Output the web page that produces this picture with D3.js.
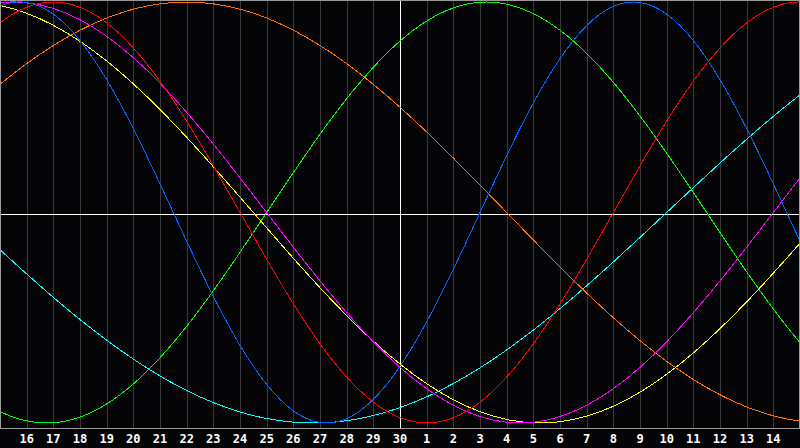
<!DOCTYPE html>
<html>
<head>
<meta charset="utf-8">
<script src="https://cdn.jsdelivr.net/npm/d3@7"></script>
<style>
  html, body { margin: 0; padding: 0; background: #050507; }
  svg { display: block; }
</style>
</head>
<body>
<script>
// day labels along the bottom (tick index 1..29)
var day_labels = ["16","17","18","19","20","21","22","23","24","25","26","27","28","29","30",
                  "1","2","3","4","5","6","7","8","9","10","11","12","13","14"];

// sample days, offset from the left edge (day 15 = 0), one extra each side
var days = [-1,0,1,2,3,4,5,6,7,8,9,10,11,12,13,14,15,16,17,18,19,20,21,22,23,24,25,26,27,28,29,30,31];

// values, -1 .. 1
var blue_vals = [0.8879,0.9791,0.9977,0.9423,0.8170,0.6311,0.3984,0.1362,-0.1362,-0.3984,-0.6311,
  -0.8170,-0.9423,-0.9977,-0.9791,-0.8879,-0.7308,-0.5196,-0.2698,0.0000,0.2698,0.5196,0.7308,
  0.8879,0.9791,0.9977,0.9423,0.8170,0.6311,0.3984,0.1362,-0.1362,-0.3984];
var red_vals = [0.7818,0.9010,0.9749,1.0000,0.9749,0.9010,0.7818,0.6235,0.4339,0.2225,0.0000,
  -0.2225,-0.4339,-0.6235,-0.7818,-0.9010,-0.9749,-1.0000,-0.9749,-0.9010,-0.7818,-0.6235,-0.4339,
  -0.2225,0.0000,0.2225,0.4339,0.6235,0.7818,0.9010,0.9749,1.0000,0.9749];
var green_vals = [-0.8660,-0.9450,-0.9898,-0.9989,-0.9718,-0.9096,-0.8146,-0.6901,-0.5406,-0.3717,
  -0.1893,0.0000,0.1893,0.3717,0.5406,0.6901,0.8146,0.9096,0.9718,0.9989,0.9898,0.9450,0.8660,
  0.7557,0.6182,0.4582,0.2817,0.0951,-0.0951,-0.2817,-0.4582,-0.6182,-0.7557];
var magenta_vals = [0.9694,0.9966,0.9966,0.9694,0.9158,0.8372,0.7357,0.6142,0.4759,0.3247,0.1646,
  0.0000,-0.1646,-0.3247,-0.4759,-0.6142,-0.7357,-0.8372,-0.9158,-0.9694,-0.9966,-0.9966,-0.9694,
  -0.9158,-0.8372,-0.7357,-0.6142,-0.4759,-0.3247,-0.1646,0.0000,0.1646,0.3247];
var yellow_vals = [0.9993,0.9834,0.9464,0.8893,0.8133,0.7199,0.6112,0.4894,0.3573,0.2174,0.0730,
  -0.0730,-0.2174,-0.3573,-0.4894,-0.6112,-0.7199,-0.8133,-0.8893,-0.9464,-0.9834,-0.9993,-0.9940,
  -0.9675,-0.9203,-0.8536,-0.7686,-0.6673,-0.5518,-0.4245,-0.2881,-0.1456,0.0000];
var orange_vals = [0.5000,0.6088,0.7071,0.7934,0.8660,0.9239,0.9659,0.9914,1.0000,0.9914,0.9659,
  0.9239,0.8660,0.7934,0.7071,0.6088,0.5000,0.3827,0.2588,0.1305,0.0000,-0.1305,-0.2588,-0.3827,
  -0.5000,-0.6088,-0.7071,-0.7934,-0.8660,-0.9239,-0.9659,-0.9914,-1.0000];
var cyan_vals = [-0.0592,-0.1769,-0.2920,-0.4031,-0.5085,-0.6068,-0.6966,-0.7766,-0.8457,-0.9028,
  -0.9474,-0.9786,-0.9960,-0.9996,-0.9890,-0.9646,-0.9267,-0.8758,-0.8126,-0.7380,-0.6530,-0.5588,
  -0.4566,-0.3482,-0.2349,-0.1183,0.0000,0.1183,0.2349,0.3482,0.4566,0.5588,0.6530];

var series = [
  {name: "cyan", color: "#00ffff", vals: cyan_vals},
  {name: "orange", color: "#ff7000", vals: orange_vals},
  {name: "green", color: "#00ff00", vals: green_vals},
  {name: "yellow", color: "#ffff00", vals: yellow_vals},
  {name: "magenta", color: "#ff00ff", vals: magenta_vals},
  {name: "red", color: "#ff0000", vals: red_vals},
  {name: "blue", color: "#0066ff", vals: blue_vals}
];

var w = 800, h = 448;
var plot_bottom = 428;
var bkg_color = "#050507";
var grid_color = "#3a3a3a";
var frame_color = "#9a9a9a";

var svg = d3.select("body").append("svg")
    .attr("width", w).attr("height", h);

svg.append("rect").attr("width", w).attr("height", h).style("fill", bkg_color);

var x = d3.scaleLinear().domain([0, 30]).range([0, w]);
var y = d3.scaleLinear().domain([-1, 1]).range([423, 2]);

// vertical day grid
var ticks = d3.range(1, 30);
svg.append("g").selectAll("line").data(ticks).enter().append("line")
    .attr("x1", function(d){ return Math.round(x(d)) + 0.5; })
    .attr("x2", function(d){ return Math.round(x(d)) + 0.5; })
    .attr("y1", 1).attr("y2", plot_bottom)
    .style("stroke", grid_color)
    .style("shape-rendering", "crispEdges");

// centre cross
svg.append("line")
    .attr("x1", 0).attr("x2", w)
    .attr("y1", plot_bottom/2 + 0.5).attr("y2", plot_bottom/2 + 0.5)
    .style("stroke", "#ffffff").style("shape-rendering", "crispEdges");
svg.append("line")
    .attr("x1", Math.round(x(15)) + 0.5).attr("x2", Math.round(x(15)) + 0.5)
    .attr("y1", 1).attr("y2", plot_bottom)
    .style("stroke", "#ffffff").style("shape-rendering", "crispEdges");

// clip for the curves
svg.append("clipPath").attr("id", "plot_clip")
  .append("rect").attr("x", 1).attr("y", 1).attr("width", w - 2).attr("height", plot_bottom - 1);

var line = d3.line()
    .x(function(d, i){ return x(days[i]); })
    .y(function(d){ return y(d); })
    .curve(d3.curveNatural);

svg.append("g").attr("clip-path", "url(#plot_clip)")
  .selectAll("path").data(series).enter().append("path")
    .attr("class", function(d){ return "curve " + d.name; })
    .attr("d", function(d){ return line(d.vals); })
    .style("fill", "none")
    .style("stroke", function(d){ return d.color; })
    .style("stroke-width", 1)
    .style("shape-rendering", "crispEdges");

// frame
svg.append("rect")
    .attr("x", 0.5).attr("y", 0.5).attr("width", w - 1).attr("height", plot_bottom)
    .style("fill", "none").style("stroke", frame_color)
    .style("shape-rendering", "crispEdges");

// day labels
svg.append("g").selectAll("text").data(ticks).enter().append("text")
    .attr("x", function(d){ return x(d); })
    .attr("y", 443)
    .attr("text-anchor", "middle")
    .attr("font-family", "DejaVu Sans Mono, monospace")
    .attr("font-weight", "bold")
    .attr("font-size", 12)
    .attr("fill", "#ffffff")
    .text(function(d){ return day_labels[d - 1]; });
</script>
</body>
</html>
